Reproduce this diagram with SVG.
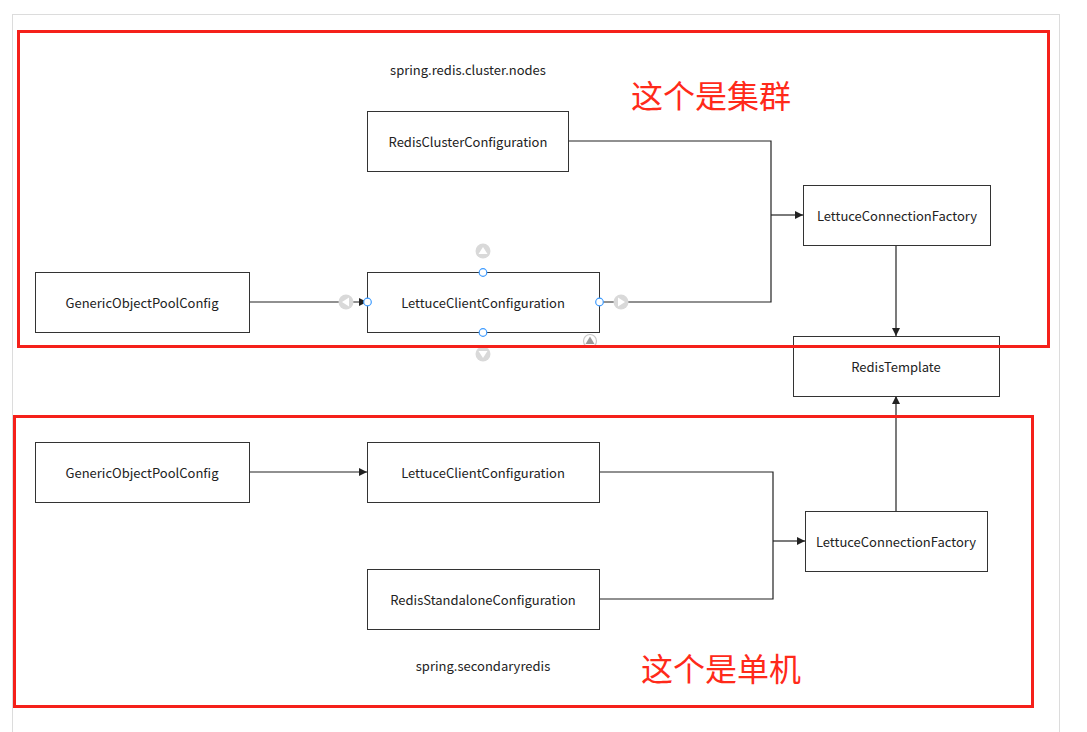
<svg xmlns="http://www.w3.org/2000/svg" width="1087" height="732" viewBox="0 0 1087 732">
<style>
.node rect{fill:#fff;stroke:#333;stroke-width:1}
.node text,.lbl{font-family:"Noto Sans CJK SC","Noto Sans",sans-serif;font-size:13px;fill:#222;text-anchor:middle;dominant-baseline:central}
.cn{font-family:"Noto Sans CJK SC",sans-serif;font-size:32px;fill:#ff2a1a;text-anchor:middle;dominant-baseline:central}
.red{fill:none;stroke:#f5201a;stroke-width:3}
.conn path{fill:none;stroke:#222;stroke-width:1.2}
.h{fill:#fff;stroke:#3d9bff;stroke-width:1.2}
.g{fill:#d9d9d9}
.gt{fill:#fff}
</style>
<defs>
<marker id="ah" viewBox="0 0 10 10" refX="10" refY="5" markerWidth="8" markerHeight="8" markerUnits="userSpaceOnUse" orient="auto">
<path d="M0,0 L10,5 L0,10 Z" fill="#222"/>
</marker>
</defs>
<rect width="1087" height="732" fill="#fff"/>
<rect x="12.5" y="14.5" width="1047" height="730" fill="none" stroke="#dcdcdc" stroke-width="1"/>

<g class="conn">
<path d="M568,141 H771 V302 H599"/>
<path d="M771,215 H803" marker-end="url(#ah)"/>
<path d="M249,302 H367" marker-end="url(#ah)"/>
<path d="M896,245 V336" marker-end="url(#ah)"/>
<path d="M599,472 H773 V599 H599"/>
<path d="M773,541 H805" marker-end="url(#ah)"/>
<path d="M249,472 H367" marker-end="url(#ah)"/>
<path d="M896,511 V396" marker-end="url(#ah)"/>
</g>

<text class="lbl" x="468" y="69">spring.redis.cluster.nodes</text>
<text class="lbl" x="483" y="665">spring.secondaryredis</text>

<g id="rcc" class="node"><rect x="367.5" y="111.5" width="201" height="60"/><text x="468" y="141">RedisClusterConfiguration</text></g>
<g id="lcf1" class="node"><rect x="803.5" y="185.5" width="187" height="60"/><text x="897" y="215">LettuceConnectionFactory</text></g>
<g id="gopc1" class="node"><rect x="35.5" y="272.5" width="214" height="60"/><text x="142" y="302">GenericObjectPoolConfig</text></g>
<g id="lcc1" class="node"><rect x="367.5" y="272.5" width="232" height="60"/><text x="483" y="302">LettuceClientConfiguration</text></g>
<g id="rt" class="node"><rect x="793.5" y="336.5" width="206" height="60"/><text x="896" y="366">RedisTemplate</text></g>
<g id="gopc2" class="node"><rect x="35.5" y="442.5" width="214" height="60"/><text x="142" y="472">GenericObjectPoolConfig</text></g>
<g id="lcc2" class="node"><rect x="367.5" y="442.5" width="232" height="60"/><text x="483" y="472">LettuceClientConfiguration</text></g>
<g id="lcf2" class="node"><rect x="805.5" y="511.5" width="182" height="60"/><text x="896" y="541">LettuceConnectionFactory</text></g>
<g id="rsc" class="node"><rect x="367.5" y="569.5" width="232" height="60"/><text x="483" y="599">RedisStandaloneConfiguration</text></g>

<g id="selection">
<circle class="h" cx="367.5" cy="302" r="3.8"/>
<circle class="h" cx="599.5" cy="302" r="3.8"/>
<circle class="h" cx="483" cy="272.5" r="3.8"/>
<circle class="h" cx="483" cy="332.5" r="3.8"/>
<circle class="g" cx="346" cy="302" r="7.5"/><path class="gt" d="M342,302 L349,297.5 L349,306.5 Z"/>
<circle class="g" cx="621" cy="302" r="7.5"/><path class="gt" d="M625,302 L618,297.5 L618,306.5 Z"/>
<circle class="g" cx="483" cy="251" r="7.5"/><path class="gt" d="M483,247 L478.5,254 L487.5,254 Z"/>
<circle class="g" cx="483" cy="354" r="7.5"/><path class="gt" d="M483,358 L478.5,351 L487.5,351 Z"/>
<circle cx="590" cy="341" r="6.5" fill="#fff" stroke="#c8c8c8" stroke-width="1.2"/><path d="M590,336.5 L585.5,344 L594.5,344 Z" fill="#9a9a9a"/>
</g>

<rect class="red" x="18.5" y="31.5" width="1030" height="315"/>
<rect class="red" x="14.5" y="416.5" width="1018" height="290"/>
<text class="cn" x="711" y="94">这个是集群</text>
<text class="cn" x="721" y="667">这个是单机</text>
</svg>
